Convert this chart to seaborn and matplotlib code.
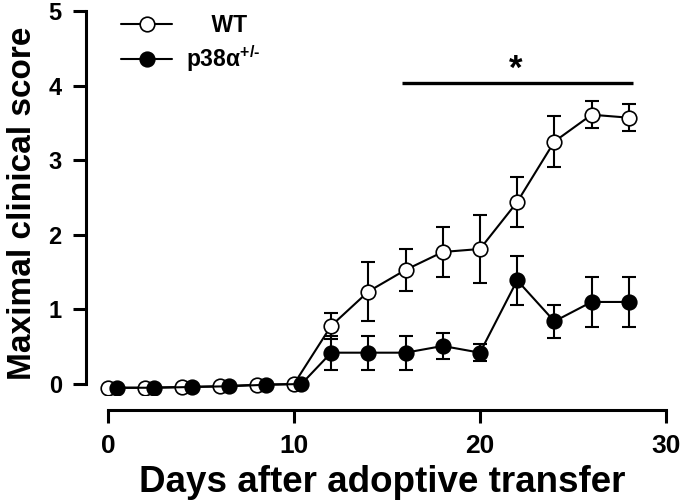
import matplotlib
matplotlib.use("Agg")
import matplotlib.pyplot as plt
import seaborn as sns
import numpy as np

# ---- data ----
days_wt = [0, 2, 4, 6, 8, 10, 12, 14, 16, 18, 20, 22, 24, 26, 28]
wt_mean = [-0.05, -0.05, -0.04, -0.03, -0.01, 0.0, 0.78, 1.24, 1.53, 1.77, 1.81, 2.44, 3.25, 3.61, 3.57]
wt_sem = [0, 0, 0, 0, 0, 0, 0.17, 0.40, 0.28, 0.34, 0.45, 0.34, 0.34, 0.18, 0.18]

days_ko = [0.5, 2.5, 4.5, 6.5, 8.5, 10.4, 12, 14, 16, 18, 20, 22, 24, 26, 28]
ko_mean = [-0.05, -0.05, -0.04, -0.03, -0.01, 0.0, 0.42, 0.42, 0.42, 0.51, 0.42, 1.39, 0.84, 1.10, 1.10]
ko_sem = [0, 0, 0, 0, 0, 0, 0.23, 0.23, 0.23, 0.17, 0.11, 0.33, 0.22, 0.34, 0.34]

labels = ["    WT", r"p38α$^{+/\text{-}}$"]
sig_span = [15.8, 28.2]
sig_y = 4.04
star_pos = [21.9, 4.22]

xticks = [0, 10, 20, 30]
yticks = [0, 1, 2, 3, 4, 5]

# ---- style ----
sns.set_style("ticks")
plt.rcParams["font.family"] = ["Liberation Sans", "DejaVu Sans"]
plt.rcParams["font.weight"] = "bold"
plt.rcParams["text.color"] = "black"
plt.rcParams["axes.labelcolor"] = "black"
plt.rcParams["xtick.color"] = "black"
plt.rcParams["ytick.color"] = "black"
plt.rcParams["axes.edgecolor"] = "black"
plt.rcParams["mathtext.fontset"] = "custom"
plt.rcParams["mathtext.rm"] = "Liberation Sans:bold"
plt.rcParams["mathtext.it"] = "Liberation Sans:bold"
plt.rcParams["mathtext.bf"] = "Liberation Sans:bold"
plt.rcParams["mathtext.default"] = "bf"

fig = plt.figure(figsize=(6.8, 5.03), dpi=100)
ax = fig.add_axes([0.1451, 0.2143, 0.8343, 0.7638])

lw = 1.5
ms = 10.5
cap = 4.7

# error bars (under markers)
ax.errorbar(days_wt, wt_mean, yerr=wt_sem, fmt="none", ecolor="black",
            elinewidth=lw, capsize=cap, capthick=lw, zorder=2)
ax.errorbar(days_ko, ko_mean, yerr=ko_sem, fmt="none", ecolor="black",
            elinewidth=lw, capsize=cap, capthick=lw, zorder=2)

sns.lineplot(x=days_wt, y=wt_mean, sort=False, errorbar=None, ax=ax,
             color="black", linewidth=lw, marker="o", markersize=ms,
             markerfacecolor="white", markeredgecolor="black",
             markeredgewidth=1.2, label=labels[0], zorder=3)
sns.lineplot(x=days_ko, y=ko_mean, sort=False, errorbar=None, ax=ax,
             color="black", linewidth=lw, marker="o", markersize=ms,
             markerfacecolor="black", markeredgecolor="black",
             markeredgewidth=1.2, label=labels[1], zorder=4)

# significance bar
ax.plot(sig_span, [sig_y, sig_y], color="black", linewidth=2.4,
        solid_capstyle="butt", zorder=3)
ax.text(star_pos[0], star_pos[1], "*", ha="center", va="center",
        fontsize=25, fontweight="bold")

ax.set_xlim(-0.5, 30)
ax.set_ylim(-0.15, 5.0)
ax.set_xticks(xticks)
ax.set_yticks(yticks)

sns.despine(ax=ax)
ax.spines["left"].set_position(("outward", 9.1))
ax.spines["bottom"].set_position(("outward", 10.7))
ax.spines["left"].set_bounds(0, 5)
ax.spines["bottom"].set_bounds(0, 30)
for s in ("left", "bottom"):
    ax.spines[s].set_linewidth(2.2)
    ax.spines[s].set_color("black")
ax.tick_params(axis="both", direction="out", width=2.2, length=9.4, colors="black")
ax.tick_params(axis="y", labelsize=17, pad=8)
ax.tick_params(axis="x", labelsize=19, pad=8)
for t in ax.get_xticklabels() + ax.get_yticklabels():
    t.set_fontweight("bold")

ax.set_xlabel("Days after adoptive transfer", fontsize=26.5, fontweight="bold", labelpad=5)
ax.set_ylabel("Maximal clinical score", fontsize=24, fontweight="bold", labelpad=8)

leg = ax.legend(loc="upper left", bbox_to_anchor=(0.024, 1.015), frameon=False,
                fontsize=16.5, handlelength=2.2, handletextpad=0.6,
                labelspacing=0.25, borderaxespad=0.0)
for t in leg.get_texts():
    t.set_fontweight("bold")

fig.savefig("out.png", dpi=100)
